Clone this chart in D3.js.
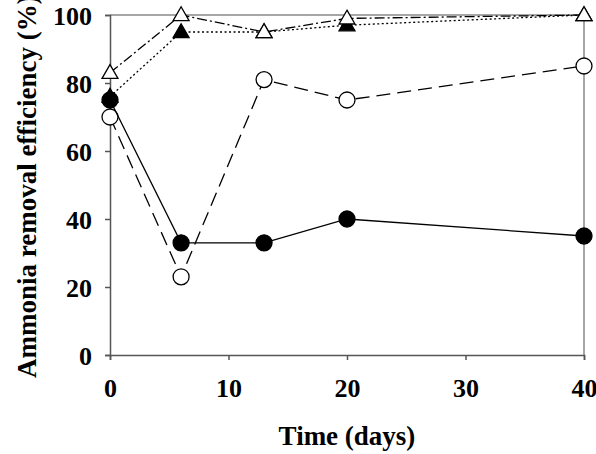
<!DOCTYPE html>
<html>
<head>
<meta charset="utf-8">
<script src="https://cdn.jsdelivr.net/npm/d3@7"></script>
<style>
  body { margin: 0; background: #fff; }
  text { font-family: "Liberation Serif", "Times New Roman", serif; font-weight: bold; }
</style>
</head>
<body>
<svg width="596" height="454"></svg>
<script>
var days = [0, 6, 13, 20, 40];
var filledCircle = [75, 33, 33, 40, 35];
var openCircle = [70, 23, 81, 75, 85];
var filledTriangle = [76, 95, 95, 97, 100];
var openTriangle = [83, 100, 95, 99, 100];
var xTicks = [0, 10, 20, 30, 40];
var yTicks = [0, 20, 40, 60, 80, 100];

var svg = d3.select("svg");
var plotL = 110, plotR = 584, plotT = 15, plotB = 355;

var x = d3.scaleLinear().domain([0, 40]).range([plotL, plotR]);
var y = d3.scaleLinear().domain([0, 100]).range([plotB, plotT]);

// frame top / right (grey)
svg.append("line").attr("x1", plotL).attr("x2", plotR).attr("y1", plotT).attr("y2", plotT)
  .attr("stroke", "#888").attr("stroke-width", 1.5);
svg.append("line").attr("x1", plotR).attr("x2", plotR).attr("y1", plotT).attr("y2", plotB)
  .attr("stroke", "#888").attr("stroke-width", 1.5);

var xAxis = svg.append("g")
  .attr("transform", "translate(0," + plotB + ")")
  .call(d3.axisBottom(x).tickValues(xTicks).tickSize(5).tickPadding(19));
var yAxis = svg.append("g")
  .attr("transform", "translate(" + plotL + ",0)")
  .call(d3.axisLeft(y).tickValues(yTicks).tickSize(5).tickPadding(13));

[xAxis, yAxis].forEach(function (a) {
  a.select(".domain").attr("stroke", "#555").attr("stroke-width", 1.5);
  a.selectAll(".tick line").attr("stroke", "#555").attr("stroke-width", 1.5);
  a.selectAll("text").attr("font-size", "26px").attr("fill", "#000")
    .style("font-family", "Liberation Serif").style("font-weight", "bold");
});
yAxis.selectAll("text").attr("dy", "0.35em");

svg.append("text")
  .attr("x", (plotL + plotR) / 2).attr("y", 445)
  .attr("text-anchor", "middle").attr("font-size", "27px")
  .text("Time (days)");

svg.append("text")
  .attr("transform", "rotate(-90)")
  .attr("x", -378).attr("y", 36)
  .attr("text-anchor", "start").attr("font-size", "27px")
  .text("Ammonia removal efficiency (%)");

var series = [
  { vals: filledTriangle, dash: "2,2.5", shape: "tri", fill: "#000" },
  { vals: openTriangle, dash: "10,3,2,3", shape: "tri", fill: "#fff" },
  { vals: openCircle, dash: "14,7", shape: "circ", fill: "#fff" },
  { vals: filledCircle, dash: null, shape: "circ", fill: "#000" }
];

var line = d3.line().x(function (d) { return x(d.t); }).y(function (d) { return y(d.v); });
var tri = d3.symbol().type(d3.symbolTriangle).size(110);

series.forEach(function (s) {
  var pts = days.map(function (t, i) { return { t: t, v: s.vals[i] }; });
  var path = svg.append("path").datum(pts).attr("d", line)
    .attr("fill", "none").attr("stroke", "#000").attr("stroke-width", 1.3);
  if (s.dash) path.attr("stroke-dasharray", s.dash);
  var g = svg.append("g");
  if (s.shape === "circ") {
    g.selectAll("circle").data(pts).enter().append("circle")
      .attr("cx", function (d) { return x(d.t); })
      .attr("cy", function (d) { return y(d.v); })
      .attr("r", 8)
      .attr("fill", s.fill).attr("stroke", "#000").attr("stroke-width", 1.3);
  } else {
    g.selectAll("path").data(pts).enter().append("path")
      .attr("d", tri)
      .attr("transform", function (d) { return "translate(" + x(d.t) + "," + (y(d.v) + 1) + ")"; })
      .attr("fill", s.fill).attr("stroke", "#000").attr("stroke-width", 1.3);
  }
});
</script>
</body>
</html>
